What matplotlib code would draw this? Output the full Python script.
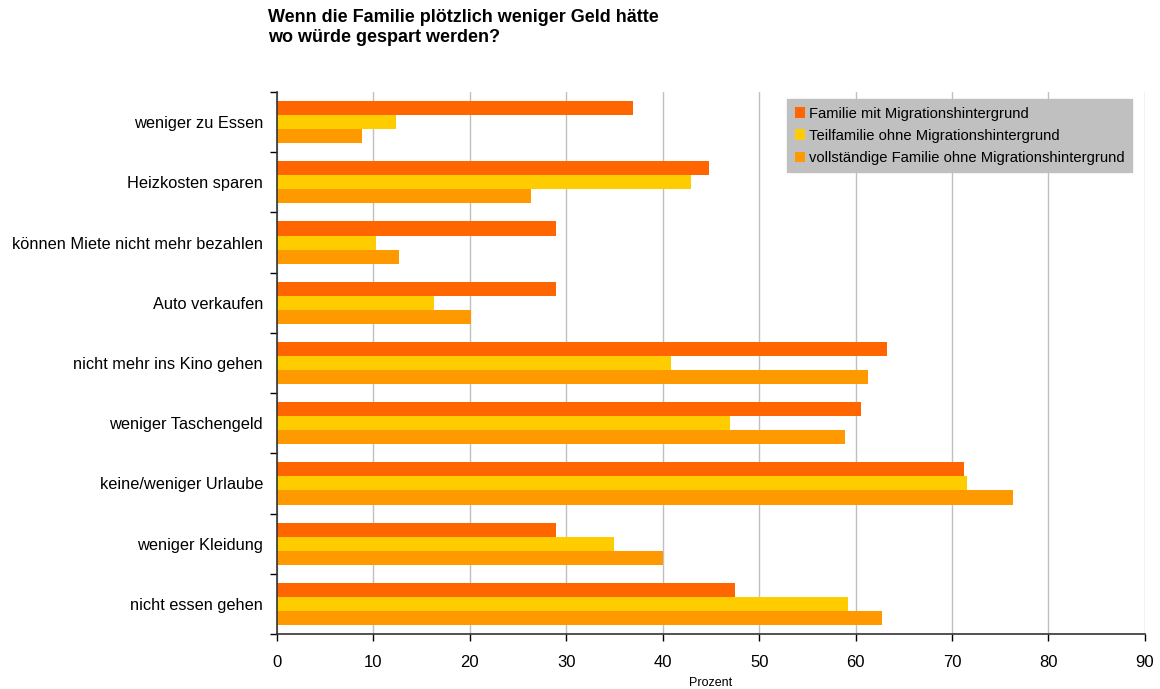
import numpy as np
import matplotlib.pyplot as plt
from matplotlib.patches import Patch

plt.rcParams["font.family"] = ["Liberation Sans", "DejaVu Sans"]

categories = [
    "weniger zu Essen",
    "Heizkosten sparen",
    "können Miete nicht mehr bezahlen",
    "Auto verkaufen",
    "nicht mehr ins Kino gehen",
    "weniger Taschengeld",
    "keine/weniger Urlaube",
    "weniger Kleidung",
    "nicht essen gehen",
]
series_names = [
    "Familie mit Migrationshintergrund",
    "Teilfamilie ohne Migrationshintergrund",
    "vollständige Familie ohne Migrationshintergrund",
]
migration = [36.9, 44.8, 28.9, 28.9, 63.3, 60.6, 71.2, 28.9, 47.5]
teilfamilie = [12.3, 42.9, 10.3, 16.3, 40.9, 47.0, 71.6, 34.9, 59.2]
vollstaendig = [8.8, 26.3, 12.6, 20.1, 61.3, 58.9, 76.3, 40.0, 62.7]
colors = ["#FF6600", "#FFCC00", "#FF9900"]

fig = plt.figure(figsize=(11.6, 6.89), dpi=100)
ax = fig.add_axes([0.2388, 0.0798, 0.7482, 0.7867])

# three bars per category, top to bottom in series order
y = np.arange(len(categories))
h = 0.233
for k, (vals, col) in enumerate(zip([migration, teilfamilie, vollstaendig], colors)):
    ax.barh(y + (k - 1) * h, vals, height=h, color=col, zorder=2)

ax.set_xlim(0, 90)
ax.set_ylim(len(categories) - 0.5, -0.5)
ax.set_xticks(np.arange(0, 91, 10))
ax.tick_params(axis="x", labelsize=12, length=5, width=1, pad=10, colors="black")
ax.set_yticks(y)
ax.set_yticklabels(categories, fontsize=11.8)
ax.tick_params(axis="y", length=0, pad=10)
# tick marks sit between the categories
ax.set_yticks(np.arange(-0.5, len(categories), 1), minor=True)
ax.tick_params(axis="y", which="minor", length=5, width=1)

ax.grid(axis="x", color="#c0c0c0", linewidth=1, zorder=0)
for side in ["top", "right"]:
    ax.spines[side].set_visible(False)
for side in ["left", "bottom"]:
    ax.spines[side].set_color("#333333")
    ax.spines[side].set_linewidth(1.2)

ax.set_xlabel("Prozent", fontsize=9, labelpad=5)

handles = [Patch(facecolor=c, edgecolor="none") for c in colors]
leg = ax.legend(handles, series_names, loc="upper right",
                bbox_to_anchor=(0.994, 1.0), fontsize=10.6,
                frameon=True, fancybox=False, facecolor="#c0c0c0",
                edgecolor="#c0c0c0", framealpha=1, handlelength=0.7,
                handleheight=0.7, handletextpad=0.3, labelspacing=0.55,
                borderpad=0.5)

fig.text(0.231, 0.987, "Wenn die Familie plötzlich weniger Geld hätte\nwo würde gespart werden?",
         fontsize=13, fontweight="bold", va="top", ha="left", linespacing=1.25)

fig.savefig("out.png", dpi=100)
